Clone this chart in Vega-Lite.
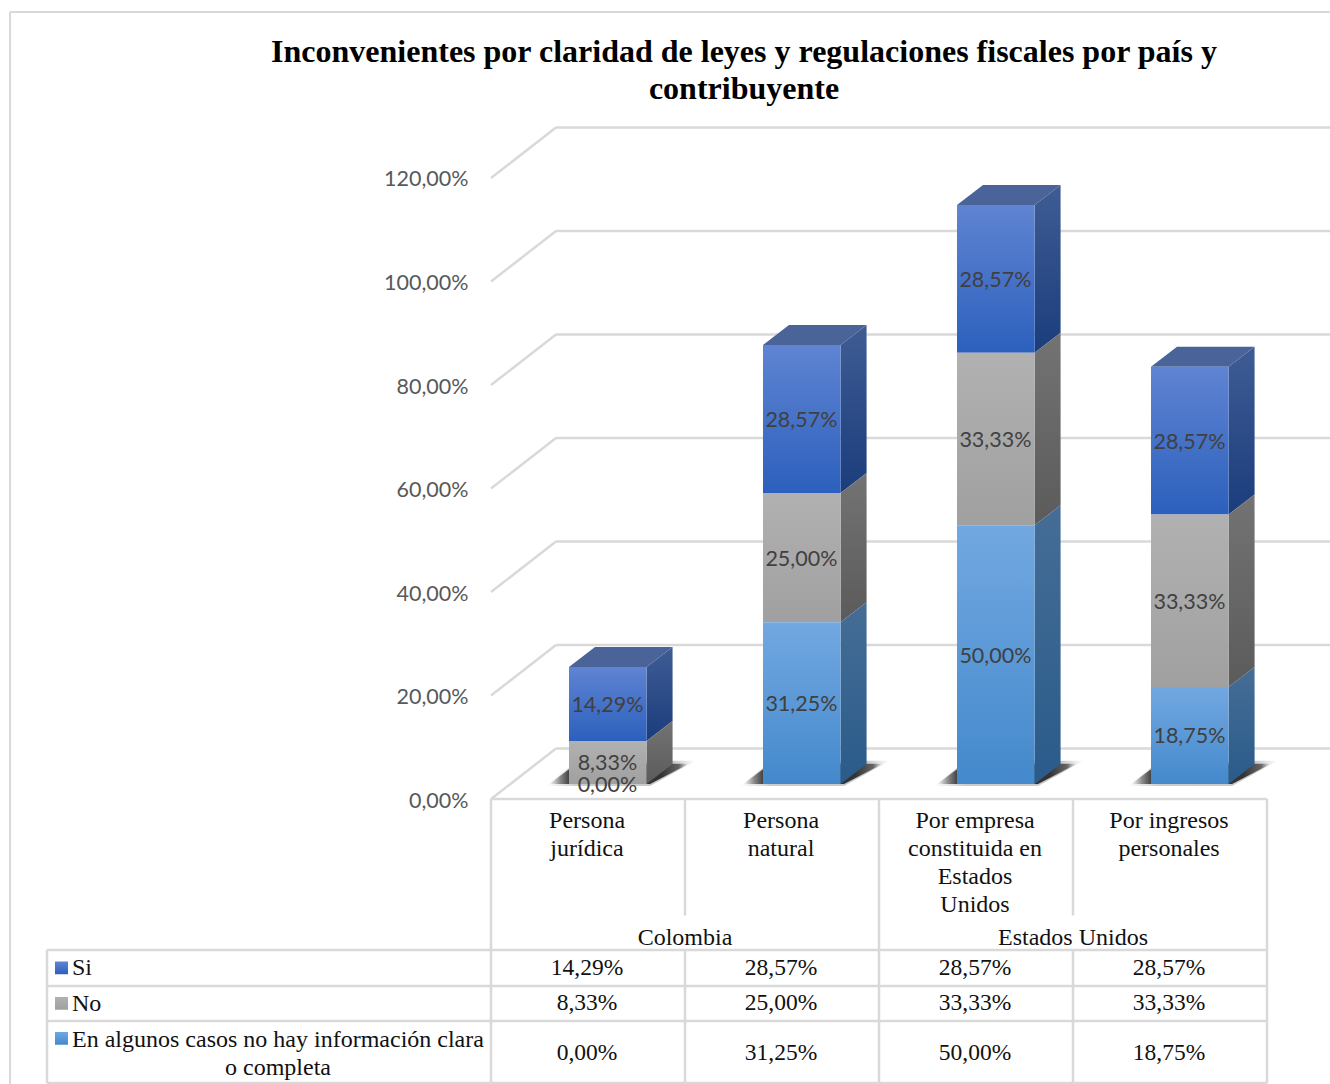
{
"$schema":"https://vega.github.io/schema/vega-lite/v6.json",
"autosize":"none","padding":0,"width":1330,"height":1084,"background":"white",
"title":{"text":["Inconvenientes por claridad de leyes y regulaciones fiscales por país y","contribuyente"],"font":"Liberation Serif","fontWeight":"bold","fontSize":32,"lineHeight":37,"color":"#000000","anchor":"middle","frame":"group","dx":79,"offset":-131,"baseline":"alphabetic"},
"config":{"view":{"stroke":null},"axisX":{"disable":true},"axisY":{"domain":false,"ticks":false,"grid":false,"titleOpacity":0,"labelAlign":"right","labelPadding":-468,"labelOffset":2,"labelFont":"Lato","labelFontSize":21.5,"labelColor":"#595959"}},
"datasets":{
"d":[
{"pais":"Colombia","contribuyente":"Persona jurídica","serie":"Si","valor":14.29},
{"pais":"Colombia","contribuyente":"Persona jurídica","serie":"No","valor":8.33},
{"pais":"Colombia","contribuyente":"Persona jurídica","serie":"En algunos casos no hay información clara o completa","valor":0},
{"pais":"Colombia","contribuyente":"Persona natural","serie":"Si","valor":28.57},
{"pais":"Colombia","contribuyente":"Persona natural","serie":"No","valor":25},
{"pais":"Colombia","contribuyente":"Persona natural","serie":"En algunos casos no hay información clara o completa","valor":31.25},
{"pais":"Estados Unidos","contribuyente":"Por empresa constituida en Estados Unidos","serie":"Si","valor":28.57},
{"pais":"Estados Unidos","contribuyente":"Por empresa constituida en Estados Unidos","serie":"No","valor":33.33},
{"pais":"Estados Unidos","contribuyente":"Por empresa constituida en Estados Unidos","serie":"En algunos casos no hay información clara o completa","valor":50},
{"pais":"Estados Unidos","contribuyente":"Por ingresos personales","serie":"Si","valor":28.57},
{"pais":"Estados Unidos","contribuyente":"Por ingresos personales","serie":"No","valor":33.33},
{"pais":"Estados Unidos","contribuyente":"Por ingresos personales","serie":"En algunos casos no hay información clara o completa","valor":18.75}
],
"marcas":[{"v":0},{"v":20},{"v":40},{"v":60},{"v":80},{"v":100},{"v":120}]
},
"layer":[
{"data":{"name":"marcas"},
 "transform":[{"calculate":"datum.v+9.75","as":"atras"}],
 "layer":[
 {"mark":{"type":"rule","color":"#d9d9d9","strokeWidth":2.5},"encoding":{"x":{"datum":0,"type":"quantitative","scale":{"domain":[-2.5309,4.3247],"nice":false,"zero":false}},"x2":{"datum":0.335},"y":{"field":"v","type":"quantitative","scale":{"domain":[-55.072,154.396],"nice":false,"zero":false},"axis":{"title":null,"values":[0,20,40,60,80,100,120],"labelExpr":"replace(format(datum.value,'.2f'),'.',',')+'%'"}},"y2":{"field":"atras"}}},
 {"mark":{"type":"rule","color":"#d9d9d9","strokeWidth":2.5},"encoding":{"x":{"datum":0.335,"type":"quantitative"},"x2":{"datum":4.3247},"y":{"field":"atras","type":"quantitative"}}}
 ]},
{"data":{"values":[{"t":"tabla"}]},
 "layer":[
 {"mark":{"type":"rule","color":"#d9d9d9","strokeWidth":2},"encoding":{"x":{"datum":-2.479,"type":"quantitative"},"x2":{"datum":4.3247},"y":{"datum":152.08,"type":"quantitative"}}},
 {"mark":{"type":"rule","color":"#d9d9d9","strokeWidth":2},"encoding":{"x":{"datum":-2.479,"type":"quantitative"},"y":{"datum":152.08,"type":"quantitative"},"y2":{"datum":-55.07}}},
 {"mark":{"type":"rule","color":"#d9d9d9","strokeWidth":2.5},"encoding":{"x":{"datum":0,"type":"quantitative"},"y":{"datum":0,"type":"quantitative"},"y2":{"datum":-54.88}}},
 {"mark":{"type":"rule","color":"#d9d9d9","strokeWidth":2.5},"encoding":{"x":{"datum":2,"type":"quantitative"},"y":{"datum":0,"type":"quantitative"},"y2":{"datum":-54.88}}},
 {"mark":{"type":"rule","color":"#d9d9d9","strokeWidth":2.5},"encoding":{"x":{"datum":4,"type":"quantitative"},"y":{"datum":0,"type":"quantitative"},"y2":{"datum":-54.88}}},
 {"mark":{"type":"rule","color":"#d9d9d9","strokeWidth":2.5},"encoding":{"x":{"datum":1,"type":"quantitative"},"y":{"datum":0,"type":"quantitative"},"y2":{"datum":-22.51}}},
 {"mark":{"type":"rule","color":"#d9d9d9","strokeWidth":2.5},"encoding":{"x":{"datum":3,"type":"quantitative"},"y":{"datum":0,"type":"quantitative"},"y2":{"datum":-22.51}}},
 {"mark":{"type":"rule","color":"#d9d9d9","strokeWidth":2.5},"encoding":{"x":{"datum":1,"type":"quantitative"},"y":{"datum":-29.18,"type":"quantitative"},"y2":{"datum":-54.88}}},
 {"mark":{"type":"rule","color":"#d9d9d9","strokeWidth":2.5},"encoding":{"x":{"datum":3,"type":"quantitative"},"y":{"datum":-29.18,"type":"quantitative"},"y2":{"datum":-54.88}}},
 {"mark":{"type":"rule","color":"#d9d9d9","strokeWidth":2.5},"encoding":{"x":{"datum":-2.2887,"type":"quantitative"},"y":{"datum":-29.18,"type":"quantitative"},"y2":{"datum":-54.88}}},
 {"mark":{"type":"rule","color":"#d9d9d9","strokeWidth":2.5},"encoding":{"x":{"datum":0,"type":"quantitative"},"x2":{"datum":4},"y":{"datum":0,"type":"quantitative"}}},
 {"mark":{"type":"rule","color":"#d9d9d9","strokeWidth":2.5},"encoding":{"x":{"datum":-2.2887,"type":"quantitative"},"x2":{"datum":4},"y":{"datum":-29.18,"type":"quantitative"}}},
 {"mark":{"type":"rule","color":"#d9d9d9","strokeWidth":2.5},"encoding":{"x":{"datum":-2.2887,"type":"quantitative"},"x2":{"datum":4},"y":{"datum":-36.14,"type":"quantitative"}}},
 {"mark":{"type":"rule","color":"#d9d9d9","strokeWidth":2.5},"encoding":{"x":{"datum":-2.2887,"type":"quantitative"},"x2":{"datum":4},"y":{"datum":-42.9,"type":"quantitative"}}},
 {"mark":{"type":"rule","color":"#d9d9d9","strokeWidth":2.5},"encoding":{"x":{"datum":-2.2887,"type":"quantitative"},"x2":{"datum":4},"y":{"datum":-54.88,"type":"quantitative"}}}
 ]},
{"data":{"name":"d"},
 "transform":[
 {"calculate":"indexof(['En algunos casos no hay información clara o completa','No','Si'],datum.serie)","as":"orden"},
 {"stack":"valor","groupby":["contribuyente"],"sort":[{"field":"orden","order":"ascending"}],"as":["y0","y1"]},
 {"calculate":"indexof(['Persona jurídica','Persona natural','Por empresa constituida en Estados Unidos','Por ingresos personales'],datum.contribuyente)","as":"i"},
 {"calculate":"datum.i+0.402","as":"xL"},
 {"calculate":"datum.i+0.802","as":"xR"},
 {"calculate":"datum.y0+2.9","as":"b0"},
 {"calculate":"datum.y1+2.9","as":"b1"},
 {"calculate":"datum.contribuyente+'|'+datum.serie","as":"clave"},
 {"calculate":"replace(format(datum.valor,'.2f'),'.',',')+'%'","as":"etiqueta"},
 {"calculate":"datum.serie=='Si'?-32.66:datum.serie=='No'?-39.42:-49.08","as":"fila"}
 ],
 "layer":[
 {"transform":[{"filter":"datum.serie=='Si'"},{"calculate":"[0,1]","as":"k"},{"flatten":["k"]},{"calculate":"datum.i+0.285+datum.k*0.16","as":"s0"},{"calculate":"datum.i+0.82+datum.k*0.235","as":"s1"},{"calculate":"2.5+datum.k*4.9","as":"sy"}],
  "mark":{"type":"area","orient":"horizontal","opacity":0.3,"fill":{"gradient":"linear","x1":0,"y1":0,"x2":1,"y2":0,"stops":[{"offset":0,"color":"#ffffff"},{"offset":0.2,"color":"#555555"},{"offset":0.85,"color":"#444444"},{"offset":1,"color":"#ffffff"}]}},
  "encoding":{"x":{"field":"s0","type":"quantitative"},"x2":{"field":"s1"},"y":{"field":"sy","type":"quantitative"},"detail":{"field":"contribuyente"}}},
 {"transform":[{"filter":"datum.serie=='Si'"},{"calculate":"[0,1]","as":"k"},{"flatten":["k"]},{"calculate":"datum.i+0.3+datum.k*0.14","as":"s0"},{"calculate":"datum.i+0.82+datum.k*0.2","as":"s1"},{"calculate":"2.9+datum.k*3.9","as":"sy"}],
  "mark":{"type":"area","orient":"horizontal","fill":{"gradient":"linear","x1":0,"y1":0,"x2":1,"y2":0,"stops":[{"offset":0,"color":"#ffffff"},{"offset":0.08,"color":"#888888"},{"offset":0.15,"color":"#3a3a3a"},{"offset":0.8,"color":"#333333"},{"offset":0.93,"color":"#666666"},{"offset":1,"color":"#ffffff"}]}},
  "encoding":{"x":{"field":"s0","type":"quantitative"},"x2":{"field":"s1"},"y":{"field":"sy","type":"quantitative"},"detail":{"field":"contribuyente"}}},
 {"transform":[{"calculate":"[0,1]","as":"k"},{"flatten":["k"]},{"calculate":"datum.xR+datum.k*0.134","as":"px"},{"calculate":"datum.b0+datum.k*3.865","as":"ya"},{"calculate":"datum.b1+datum.k*3.865","as":"yb"},{"filter":"datum.valor>0"}],
  "mark":{"type":"area","orient":"vertical"},
  "encoding":{"x":{"field":"px","type":"quantitative"},"y":{"field":"yb","type":"quantitative"},"y2":{"field":"ya"},"detail":{"field":"clave"},
   "fill":{"condition":[
    {"test":"datum.serie=='Si'","value":{"gradient":"linear","x1":0,"y1":0,"x2":0,"y2":1,"stops":[{"offset":0,"color":"#3f5c94"},{"offset":1,"color":"#1b3d7c"}]}},
    {"test":"datum.serie=='No'","value":{"gradient":"linear","x1":0,"y1":0,"x2":0,"y2":1,"stops":[{"offset":0,"color":"#737373"},{"offset":1,"color":"#5b5b5b"}]}}],
    "value":{"gradient":"linear","x1":0,"y1":0,"x2":0,"y2":1,"stops":[{"offset":0,"color":"#456d96"},{"offset":1,"color":"#2a5b8a"}]}}}},
 {"transform":[{"filter":"datum.serie=='Si'"},{"calculate":"[0,1]","as":"k"},{"flatten":["k"]},{"calculate":"datum.xL+datum.k*0.134","as":"p0"},{"calculate":"datum.xR+datum.k*0.134","as":"p1"},{"calculate":"datum.b1+datum.k*3.865","as":"yt"}],
  "mark":{"type":"area","orient":"horizontal","fill":"#4a6398"},
  "encoding":{"x":{"field":"p0","type":"quantitative"},"x2":{"field":"p1"},"y":{"field":"yt","type":"quantitative"},"detail":{"field":"clave"}}},
 {"transform":[{"filter":"datum.valor>0"}],
  "mark":{"type":"rect"},
  "encoding":{"x":{"field":"xL","type":"quantitative"},"x2":{"field":"xR"},"y":{"field":"b1","type":"quantitative"},"y2":{"field":"b0"},
   "fill":{"condition":[
    {"test":"datum.serie=='Si'","value":{"gradient":"linear","x1":0,"y1":0,"x2":0,"y2":1,"stops":[{"offset":0,"color":"#5f84d2"},{"offset":1,"color":"#2c60bd"}]}},
    {"test":"datum.serie=='No'","value":{"gradient":"linear","x1":0,"y1":0,"x2":0,"y2":1,"stops":[{"offset":0,"color":"#b1b1b1"},{"offset":1,"color":"#a0a0a0"}]}}],
    "value":{"gradient":"linear","x1":0,"y1":0,"x2":0,"y2":1,"stops":[{"offset":0,"color":"#72a8e1"},{"offset":1,"color":"#4489cc"}]}}}},
 {"transform":[{"calculate":"datum.i+0.6","as":"cx"},{"calculate":"(datum.b0+datum.b1)/2","as":"cy"}],
  "mark":{"type":"text","font":"Lato","fontSize":21.5,"color":"#404040","baseline":"middle","align":"center","dy":2},
  "encoding":{"x":{"field":"cx","type":"quantitative"},"y":{"field":"cy","type":"quantitative"},"text":{"field":"etiqueta"}}},
 {"transform":[{"calculate":"datum.i+0.495","as":"cx"}],
  "mark":{"type":"text","font":"Liberation Serif","fontSize":23.5,"color":"#111111","baseline":"middle","align":"center"},
  "encoding":{"x":{"field":"cx","type":"quantitative"},"y":{"field":"fila","type":"quantitative"},"text":{"field":"etiqueta"}}},
 {"transform":[{"filter":"datum.serie=='Si'"},{"calculate":"datum.i+0.5-0.005","as":"cx"},{"calculate":"-5.6","as":"cy"},{"calculate":"{'Persona jurídica':'Persona\\njurídica','Persona natural':'Persona\\nnatural','Por empresa constituida en Estados Unidos':'Por empresa\\nconstituida en\\nEstados\\nUnidos','Por ingresos personales':'Por ingresos\\npersonales'}[datum.contribuyente]","as":"cat"}],
  "mark":{"type":"text","font":"Liberation Serif","fontSize":24,"color":"#111111","baseline":"alphabetic","align":"center","lineBreak":"\n","lineHeight":28},
  "encoding":{"x":{"field":"cx","type":"quantitative"},"y":{"field":"cy","type":"quantitative"},"text":{"field":"cat"}}},
 {"transform":[{"aggregate":[{"op":"mean","field":"i","as":"m"}],"groupby":["pais"]},{"calculate":"datum.m+0.5","as":"cx"},{"calculate":"-28.2","as":"cy"}],
  "mark":{"type":"text","font":"Liberation Serif","fontSize":24,"color":"#111111","baseline":"alphabetic","align":"center"},
  "encoding":{"x":{"field":"cx","type":"quantitative"},"y":{"field":"cy","type":"quantitative"},"text":{"field":"pais"}}},
 {"transform":[{"filter":"datum.i==0"},{"calculate":"-2.2474","as":"k0"},{"calculate":"-2.1804","as":"k1"},{"calculate":"datum.serie=='Si'?-31.4:datum.serie=='No'?-38.26:-45.02","as":"f0"},{"calculate":"datum.f0-2.45","as":"f1"}],
  "mark":{"type":"rect"},
  "encoding":{"x":{"field":"k0","type":"quantitative"},"x2":{"field":"k1"},"y":{"field":"f0","type":"quantitative"},"y2":{"field":"f1"},
   "fill":{"condition":[
    {"test":"datum.serie=='Si'","value":{"gradient":"linear","x1":0,"y1":0,"x2":0,"y2":1,"stops":[{"offset":0,"color":"#5f84d2"},{"offset":1,"color":"#2c60bd"}]}},
    {"test":"datum.serie=='No'","value":{"gradient":"linear","x1":0,"y1":0,"x2":0,"y2":1,"stops":[{"offset":0,"color":"#b1b1b1"},{"offset":1,"color":"#a0a0a0"}]}}],
    "value":{"gradient":"linear","x1":0,"y1":0,"x2":0,"y2":1,"stops":[{"offset":0,"color":"#72a8e1"},{"offset":1,"color":"#4489cc"}]}}}},
 {"transform":[{"filter":"datum.i==0 && datum.serie!='Si' && datum.serie!='No'"},{"calculate":"-1.098","as":"cx"},{"calculate":"-47.92","as":"cy"},{"calculate":"replace(datum.serie,' clara o',' clara\\no')","as":"nombre"}],
  "mark":{"type":"text","font":"Liberation Serif","fontSize":24,"color":"#111111","baseline":"alphabetic","align":"center","lineBreak":"\n","lineHeight":28},
  "encoding":{"x":{"field":"cx","type":"quantitative"},"y":{"field":"cy","type":"quantitative"},"text":{"field":"nombre"}}},
 {"transform":[{"filter":"datum.i==0 && (datum.serie=='Si' || datum.serie=='No')"},{"calculate":"-2.1598","as":"cx"},{"calculate":"datum.serie=='Si'?-34.01:-40.97","as":"cy"}],
  "mark":{"type":"text","font":"Liberation Serif","fontSize":24,"color":"#111111","baseline":"alphabetic","align":"left"},
  "encoding":{"x":{"field":"cx","type":"quantitative"},"y":{"field":"cy","type":"quantitative"},"text":{"field":"serie"}}}
 ]}
]
}
